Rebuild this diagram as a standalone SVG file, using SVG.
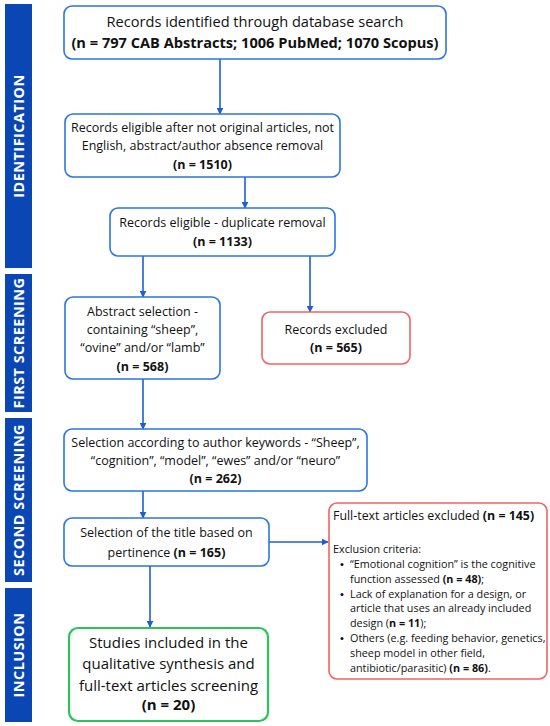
<svg xmlns="http://www.w3.org/2000/svg" width="550" height="726" viewBox="0 0 550 726">
<defs>
<marker id="ah" viewBox="0 0 10 10" refX="9" refY="5" markerWidth="7" markerHeight="7" markerUnits="userSpaceOnUse" orient="auto">
<path d="M0,0 L10,5 L0,10 z" fill="#1f5fcf"/>
</marker>
<style>
.bar{fill:#0a47b5}
.bt{fill:#fff;font-family:"Open Sans",sans-serif;font-weight:bold;font-size:14.4px;text-anchor:middle;letter-spacing:0.5px}
.box{fill:#fff;stroke:#2b76e0;stroke-width:1.6}
.red{fill:#fff;stroke:#f26363;stroke-width:1.6}
.grn{fill:#fff;stroke:#2dc25a;stroke-width:2.2}
.t{font-family:"Open Sans",sans-serif;fill:#111;text-anchor:middle;font-size:12.5px}
.t1{font-size:14.6px}
.t9{font-size:15px}
.b{font-weight:bold}
.c{stroke:#1f5fcf;stroke-width:1.6;fill:none;marker-end:url(#ah)}
.l{font-family:"Open Sans",sans-serif;fill:#111;font-size:10.8px}
</style>
</defs>
<g id="sidebars">
<rect class="bar" x="5" y="4" width="27" height="264"/>
<text class="bt" transform="translate(23.5,136) rotate(-90)">IDENTIFICATION</text>
<rect class="bar" x="5" y="274" width="27" height="138"/>
<text class="bt" transform="translate(23.5,343) rotate(-90)">FIRST SCREENING</text>
<rect class="bar" x="5" y="418" width="27" height="164"/>
<text class="bt" transform="translate(23.5,500) rotate(-90)">SECOND SCREENING</text>
<rect class="bar" x="5" y="588" width="27" height="134"/>
<text class="bt" transform="translate(23.5,655) rotate(-90)">INCLUSION</text>
</g>
<g id="connectors">
<line class="c" x1="220" y1="59" x2="220" y2="114"/>
<line class="c" x1="245" y1="177" x2="245" y2="208"/>
<line class="c" x1="143" y1="256" x2="143" y2="297"/>
<line class="c" x1="310" y1="256" x2="310" y2="312"/>
<line class="c" x1="143" y1="379" x2="143" y2="429"/>
<line class="c" x1="143" y1="491" x2="143" y2="518"/>
<line class="c" x1="269" y1="542" x2="328" y2="542"/>
<line class="c" x1="150" y1="566" x2="150" y2="627"/>
</g>
<g id="n1">
<rect class="box" x="64" y="6" width="382" height="53" rx="8"/>
<text class="t t1" x="255" y="27">Records identified through database search</text>
<text class="t t1 b" x="255" y="48">(n = 797 CAB Abstracts; 1006 PubMed; 1070 Scopus)</text>
</g>
<g id="n2">
<rect class="box" x="65" y="114" width="275" height="63" rx="8"/>
<text class="t" x="202.5" y="132">Records eligible after not original articles, not</text>
<text class="t" x="202.5" y="150">English, abstract/author absence removal</text>
<text class="t b" x="202.5" y="169">(n = 1510)</text>
</g>
<g id="n3">
<rect class="box" x="110" y="208" width="225" height="48" rx="8"/>
<text class="t" x="222.5" y="227">Records eligible - duplicate removal</text>
<text class="t b" x="222.5" y="246">(n = 1133)</text>
</g>
<g id="n4">
<rect class="box" x="65" y="297" width="155" height="82" rx="8"/>
<text class="t" x="142.5" y="316">Abstract selection -</text>
<text class="t" x="142.5" y="334">containing “sheep”,</text>
<text class="t" x="142.5" y="352">“ovine” and/or “lamb”</text>
<text class="t b" x="142.5" y="371">(n = 568)</text>
</g>
<g id="n5">
<rect class="red" x="262" y="312" width="148" height="52" rx="8"/>
<text class="t" x="336" y="334">Records excluded</text>
<text class="t b" x="336" y="352">(n = 565)</text>
</g>
<g id="n6">
<rect class="box" x="64" y="429" width="303" height="62" rx="8"/>
<text class="t" x="215.5" y="447">Selection according to author keywords - “Sheep”,</text>
<text class="t" x="215.5" y="465">“cognition”, “model”, “ewes” and/or “neuro”</text>
<text class="t b" x="215.5" y="483">(n = 262)</text>
</g>
<g id="n7">
<rect class="box" x="64" y="518" width="205" height="48" rx="8"/>
<text class="t" x="166.5" y="537">Selection of the title based on</text>
<text class="t" x="166.5" y="557">pertinence <tspan class="b">(n = 165)</tspan></text>
</g>
<g id="n8">
<rect class="red" x="329" y="503" width="218" height="176" rx="8"/>
<text x="333" y="520" font-family="Open Sans, sans-serif" font-size="12.4" fill="#111">Full-text articles excluded <tspan font-weight="bold">(n = 145)</tspan></text>
<text class="l" x="333" y="553">Exclusion criteria:</text>
<circle cx="342" cy="564.5" r="1.5" fill="#111"/>
<circle cx="342" cy="594.5" r="1.5" fill="#111"/>
<circle cx="342" cy="638.5" r="1.5" fill="#111"/>
<text class="l" x="350" y="568">“Emotional cognition” is the cognitive</text>
<text class="l" x="350" y="583">function assessed <tspan font-weight="bold">(n = 48)</tspan>;</text>
<text class="l" x="350" y="598">Lack of explanation for a design, or</text>
<text class="l" x="350" y="612">article that uses an already included</text>
<text class="l" x="350" y="627">design (<tspan font-weight="bold">n = 11</tspan>);</text>
<text class="l" x="350" y="642">Others (e.g. feeding behavior, genetics,</text>
<text class="l" x="350" y="657">sheep model in other field,</text>
<text class="l" x="350" y="672">antibiotic/parasitic) <tspan font-weight="bold">(n = 86)</tspan>.</text>
</g>
<g id="n9">
<rect class="grn" x="69" y="628" width="199" height="93" rx="9"/>
<text class="t t9" x="168.5" y="648">Studies included in the</text>
<text class="t t9" x="168.5" y="669">qualitative synthesis and</text>
<text class="t t9" x="168.5" y="691">full-text articles screening</text>
<text class="t t9 b" x="168.5" y="710">(n = 20)</text>
</g>
</svg>
